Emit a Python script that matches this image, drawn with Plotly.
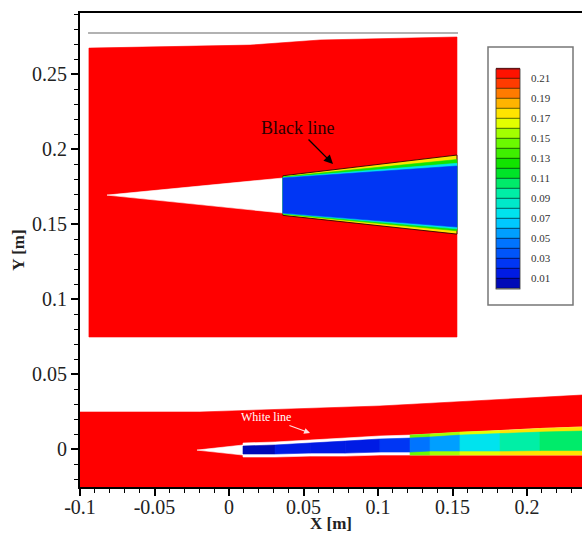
import plotly.graph_objects as go
from plotly.colors import sample_colorscale

# ---------------- data (axis units = m) ----------------
x_range = [-0.1, 0.2369]
y_range = [-0.0253, 0.2907]
x_tickvals = [-0.1, -0.05, 0, 0.05, 0.1, 0.15, 0.2]
x_ticktext = ["-0.1", "-0.05", "0", "0.05", "0.1", "0.15", "0.2"]
y_tickvals = [0, 0.05, 0.1, 0.15, 0.2, 0.25]
y_ticktext = ["0", "0.05", "0.1", "0.15", "0.2", "0.25"]

# contour levels / legend
level_start, level_end, level_step = 0.0, 0.22, 0.01
legend_ticks = [0.01, 0.03, 0.05, 0.07, 0.09, 0.11, 0.13, 0.15, 0.17, 0.19, 0.21]

colorscale = [
    [0.00, "#0000a0"], [0.08, "#0020f0"], [0.20, "#0070ff"], [0.32, "#00e0ff"],
    [0.44, "#00f0a0"], [0.55, "#00e000"], [0.68, "#80ff00"], [0.77, "#ffff00"],
    [0.86, "#ffa000"], [0.94, "#ff3000"], [1.00, "#ff0000"],
]

# ---- upper (magnified) view ----
inset_x = [-0.0940, 0.0141, 0.0611, 0.1530]
inset_top = [0.2673, 0.2693, 0.2727, 0.2747]
inset_bottom = 0.0747
guide_x = [-0.0946, 0.1537]
guide_y = [0.2773, 0.2773]

up_wedge_x = [-0.0819, 0.0362, 0.0362]
up_wedge_y = [0.1693, 0.1807, 0.1573]

up_jet_x = [0.0362, 0.1530]
# layers: (value, top-left, top-right, bottom-left, bottom-right)
up_jet_layers = [
    (0.17, 0.1822, 0.1960, 0.1558, 0.1433),
    (0.12, 0.1815, 0.1930, 0.1565, 0.1455),
    (0.07, 0.1810, 0.1905, 0.1570, 0.1468),
    (0.02, 0.1807, 0.1887, 0.1573, 0.1480),
]

# ---- lower (full) view ----
band_x = [-0.1, -0.0195, 0.1013, 0.2369]
band_top = [0.0247, 0.0247, 0.0287, 0.0360]
band_bottom = -0.0253

low_wedge_x = [-0.0215, 0.0094, 0.0094]
low_wedge_y = [-0.0007, 0.0027, -0.0040]

jet_x = [0.0094, 0.0309, 0.0544, 0.0779, 0.1013, 0.1215, 0.1349, 0.1550, 0.1819, 0.2087, 0.2369]
jet_outer_top = [0.0040, 0.0047, 0.0060, 0.0073, 0.0087, 0.0093, 0.0100, 0.0113, 0.0123, 0.0137, 0.0147]
jet_outer_bot = [-0.0053, -0.0053, -0.0047, -0.0047, -0.0040, -0.0040, -0.0040, -0.0040, -0.0040, -0.0040, -0.0040]
jet_core_top = [0.0020, 0.0027, 0.0040, 0.0053, 0.0067, 0.0073, 0.0080, 0.0093, 0.0103, 0.0113, 0.0120]
jet_core_bot = [-0.0033, -0.0033, -0.0027, -0.0027, -0.0020, -0.0020, -0.0013, -0.0013, -0.0013, -0.0010, -0.0010]
jet_core_val = [0.008, 0.01, 0.012, 0.015, 0.02, 0.03, 0.05, 0.065, 0.08, 0.10, 0.115]
jet_edge_val = [None, None, None, None, None, 0.14, 0.15, 0.16, 0.17, 0.17, 0.17]

# annotations
black_label = "Black line"
white_label = "White line"
black_head = (0.0698, 0.1900)
white_head = (0.0544, 0.0107)

# ---------------- drawing ----------------
n_bands = round((level_end - level_start) / level_step)


def band_color(v):
    idx = int((v - level_start) / level_step + 1e-9)
    idx = max(0, min(idx, n_bands - 1))
    return sample_colorscale(colorscale, [(idx + 0.5) / n_bands])[0]


fig = go.Figure()


def poly(xs, ys, color, line_color=None, line_width=0.6):
    fig.add_trace(go.Scatter(
        x=list(xs) + [xs[0]], y=list(ys) + [ys[0]], mode="lines", fill="toself",
        fillcolor=color, line=dict(color=line_color or color, width=line_width),
        hoverinfo="skip", showlegend=False))


red = sample_colorscale(colorscale, [1.0])[0]   # ambient (above top level)

# lower view
poly(band_x + band_x[::-1], band_top + [band_bottom] * len(band_x), red)
poly(low_wedge_x, low_wedge_y, "white")
poly(jet_x + jet_x[::-1], jet_outer_top + jet_outer_bot[::-1], "white")
for i in range(len(jet_x) - 1):
    a, b = jet_edge_val[i], jet_edge_val[i + 1]
    if a is None or b is None:
        continue
    c = band_color((a + b) / 2)
    poly([jet_x[i], jet_x[i + 1], jet_x[i + 1], jet_x[i]],
         [jet_outer_top[i], jet_outer_top[i + 1], jet_outer_bot[i + 1], jet_outer_bot[i]], c)
for i in range(len(jet_x) - 1):
    c = band_color((jet_core_val[i] + jet_core_val[i + 1]) / 2)
    poly([jet_x[i], jet_x[i + 1], jet_x[i + 1], jet_x[i]],
         [jet_core_top[i], jet_core_top[i + 1], jet_core_bot[i + 1], jet_core_bot[i]], c)

# upper view
poly(inset_x + inset_x[::-1], inset_top + [inset_bottom] * len(inset_x), red)
poly(up_wedge_x, up_wedge_y, "white")
for k, (v, tl, tr, bl, br) in enumerate(up_jet_layers):
    poly([up_jet_x[0], up_jet_x[1], up_jet_x[1], up_jet_x[0]], [tl, tr, br, bl], band_color(v),
         line_color="#300000" if k == 0 else None, line_width=0.9 if k == 0 else 0.6)
fig.add_trace(go.Scatter(x=guide_x, y=guide_y, mode="lines", line=dict(color="#999999", width=1.5),
                         hoverinfo="skip", showlegend=False))

# legend colour bar (contour levels)
fig.add_trace(go.Contour(
    x=[10, 11], y=[10, 11], z=[[level_start, level_end], [level_end, level_start]],
    colorscale=colorscale, zmin=level_start, zmax=level_end,
    contours=dict(start=level_start, end=level_end, size=level_step, coloring="fill", showlines=True),
    line=dict(color="black", width=0.6), hoverinfo="skip", showscale=True,
    colorbar=dict(
        x=(496 - 80) / 502, xanchor="left", y=1 - (178.5 - 13) / 474, yanchor="middle",
        len=220, lenmode="pixels", thickness=24, thicknessmode="pixels",
        outlinewidth=0.8, outlinecolor="#333", borderwidth=0, xpad=0, ypad=0,
        bgcolor="rgba(0,0,0,0)",
        tickmode="array", tickvals=legend_ticks, ticktext=[f"{t:.2f}" for t in legend_ticks],
        ticks="outside", ticklen=9, tickcolor="rgba(0,0,0,0)",
        tickfont=dict(family="Liberation Serif", size=11, color="#333"),
    ),
))

fig.add_annotation(x=black_head[0], y=black_head[1], xref="x", yref="y", text=black_label,
                   showarrow=True, arrowhead=2, arrowsize=1.3, arrowwidth=1.4, arrowcolor="black",
                   ax=-36, ay=-36, font=dict(family="Liberation Serif", size=18, color="#2a0000"))
fig.add_annotation(x=white_head[0], y=white_head[1], xref="x", yref="y", text=white_label,
                   showarrow=True, arrowhead=2, arrowsize=1, arrowwidth=1.2, arrowcolor="#ffe0e0",
                   ax=-44, ay=-16, font=dict(family="Liberation Serif", size=12, color="white"))

# legend frame
fig.add_shape(type="rect", xref="paper", yref="paper",
              x0=(488 - 80) / 502, x1=(573 - 80) / 502,
              y0=1 - (305 - 13) / 474, y1=1 - (47 - 13) / 474,
              line=dict(color="#777", width=1.5), fillcolor="rgba(0,0,0,0)", layer="above")

axis_font = dict(family="Liberation Serif", size=20, color="#222")
common = dict(showline=True, linecolor="black", linewidth=2, ticks="outside", ticklen=7,
              tickwidth=1.5, tickcolor="black", showgrid=False, zeroline=False,
              tickfont=axis_font, automargin=False,
              minor=dict(tick0=0, dtick=0.01, ticks="outside", ticklen=4, tickwidth=1,
                         tickcolor="black", showgrid=False))
fig.update_xaxes(range=x_range, tickmode="array", tickvals=x_tickvals, ticktext=x_ticktext,
                 mirror=True, ticklabelstandoff=-6,
                 title=dict(text="<b>X [m]</b>", font=dict(family="Liberation Serif", size=17, color="#222"),
                            standoff=0), **common)
fig.update_yaxes(range=y_range, tickmode="array", tickvals=y_tickvals, ticktext=y_ticktext,
                 title=dict(text="<b>Y [m]</b>", font=dict(family="Liberation Serif", size=17, color="#222"),
                            standoff=3), **common)

fig.update_layout(width=582, height=533, margin=dict(l=80, r=0, t=13, b=46),
                  paper_bgcolor="white", plot_bgcolor="white", hovermode=False, showlegend=False)

fig.write_html("out.html")
